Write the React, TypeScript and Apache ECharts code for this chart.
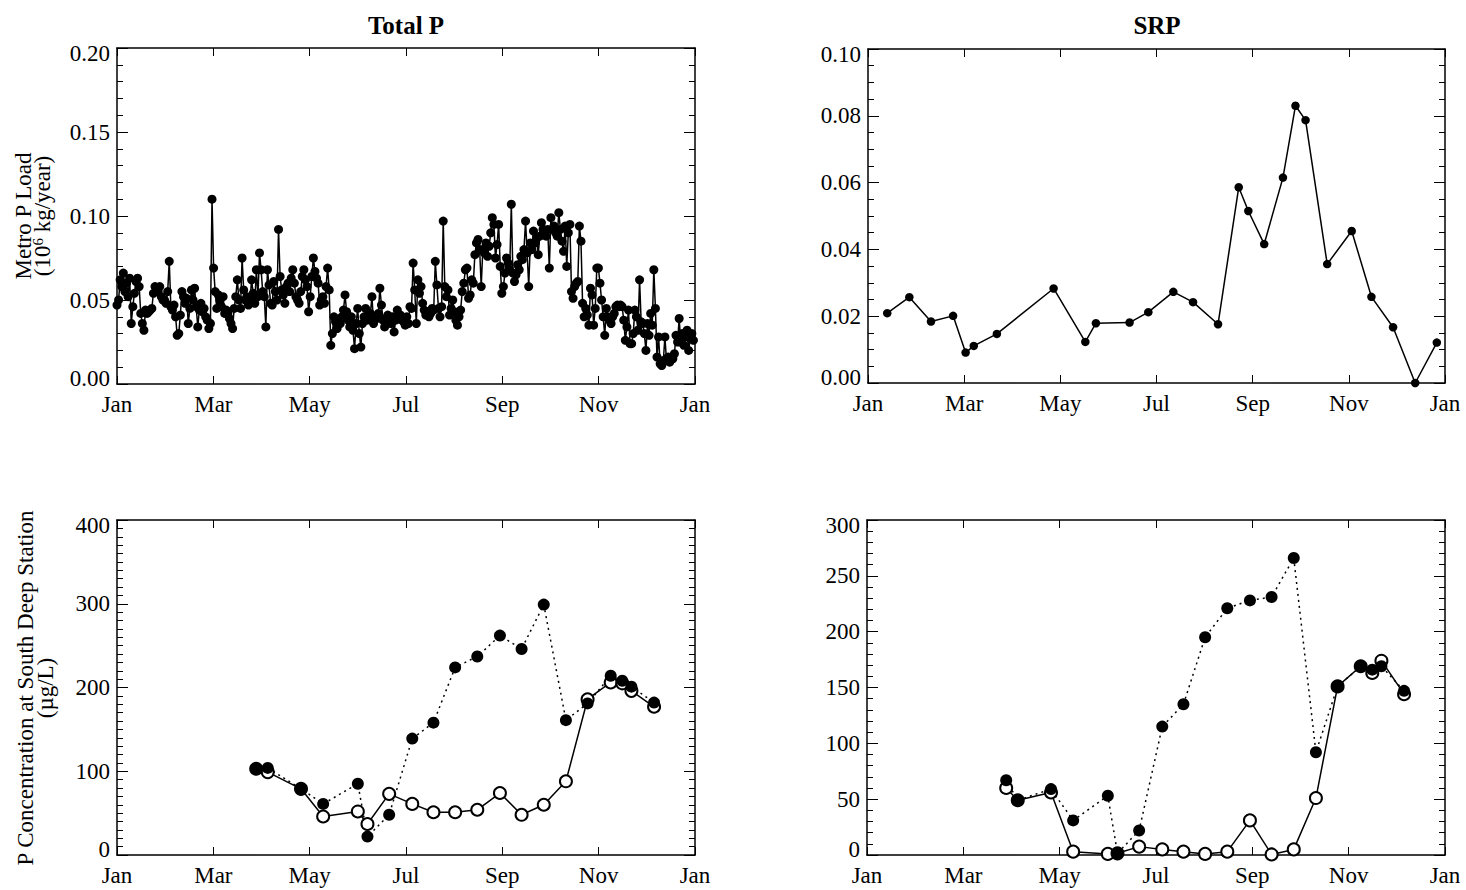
import React, { useEffect, useRef } from 'react';
import * as echarts from 'echarts';

const FONT = '"Liberation Serif", "Times New Roman", serif';
const MONTH_TICKS = ['Jan', 'Mar', 'May', 'Jul', 'Sep', 'Nov', 'Jan'];

// Daily Total P metro load (10^6 kg/year), day 0 = Jan 1
const TP_LOAD = [
  0.047, 0.050, 0.062, 0.058, 0.066, 0.055, 0.060, 0.052, 0.063, 0.036,
  0.046, 0.054, 0.061, 0.063, 0.058, 0.042, 0.036, 0.032, 0.044, 0.042,
  0.043, 0.044, 0.045, 0.054, 0.058, 0.057, 0.055, 0.058, 0.052, 0.050,
  0.050, 0.048, 0.055, 0.073, 0.046, 0.044, 0.047, 0.040, 0.029, 0.030,
  0.041, 0.055, 0.052, 0.048, 0.051, 0.036, 0.045, 0.056, 0.050, 0.057,
  0.046, 0.034, 0.044, 0.048, 0.043, 0.045, 0.040, 0.038, 0.033, 0.036,
  0.110, 0.069, 0.055, 0.045, 0.053, 0.050, 0.046, 0.052, 0.042, 0.044,
  0.042, 0.039, 0.036, 0.033, 0.045, 0.052, 0.062, 0.050, 0.045, 0.075,
  0.056, 0.050, 0.052, 0.047, 0.050, 0.062, 0.054, 0.048, 0.068, 0.052,
  0.078, 0.068, 0.055, 0.052, 0.034, 0.068, 0.059, 0.048, 0.047, 0.061,
  0.055, 0.050, 0.092, 0.064, 0.056, 0.053, 0.048, 0.058, 0.060, 0.055,
  0.063, 0.068, 0.060, 0.052, 0.050, 0.048, 0.055, 0.064, 0.068, 0.062,
  0.058, 0.043, 0.052, 0.064, 0.075, 0.067, 0.063, 0.060, 0.047, 0.050,
  0.052, 0.048, 0.058, 0.069, 0.056, 0.023, 0.030, 0.040, 0.037, 0.033,
  0.038, 0.036, 0.040, 0.044, 0.053, 0.043, 0.038, 0.034, 0.040, 0.032,
  0.021, 0.036, 0.045, 0.030, 0.022, 0.036, 0.040, 0.045, 0.038, 0.040,
  0.042, 0.052, 0.036, 0.040, 0.039, 0.042, 0.057, 0.047, 0.038, 0.034,
  0.039, 0.041, 0.040, 0.036, 0.040, 0.031, 0.038, 0.044, 0.039, 0.041,
  0.038, 0.037, 0.035, 0.040, 0.036, 0.046, 0.045, 0.072, 0.056, 0.036,
  0.062, 0.054, 0.058, 0.048, 0.044, 0.041, 0.043, 0.040, 0.042, 0.045,
  0.044, 0.073, 0.059, 0.045, 0.040, 0.046, 0.097, 0.058, 0.052, 0.056,
  0.041, 0.045, 0.050, 0.043, 0.038, 0.035, 0.040, 0.044, 0.055, 0.060,
  0.068, 0.069, 0.051, 0.053, 0.062, 0.060, 0.077, 0.084, 0.086, 0.080,
  0.058, 0.080, 0.078, 0.084, 0.076, 0.082, 0.090, 0.099, 0.095, 0.075,
  0.083, 0.095, 0.070, 0.054, 0.058, 0.066, 0.075, 0.072, 0.068, 0.107,
  0.066, 0.061, 0.065, 0.071, 0.068, 0.076, 0.074, 0.080, 0.097, 0.078,
  0.058, 0.084, 0.080, 0.091, 0.084, 0.087, 0.077, 0.088, 0.096, 0.092,
  0.090, 0.088, 0.092, 0.069, 0.099, 0.092, 0.094, 0.090, 0.088, 0.102,
  0.092, 0.085, 0.079, 0.094, 0.070, 0.090, 0.095, 0.055, 0.051, 0.058,
  0.060, 0.061, 0.094, 0.085, 0.048, 0.040, 0.045, 0.041, 0.035, 0.057,
  0.053, 0.035, 0.045, 0.069, 0.069, 0.060, 0.050, 0.040, 0.029, 0.045,
  0.040, 0.038, 0.036, 0.040, 0.042, 0.046, 0.047, 0.046, 0.047, 0.046,
  0.038, 0.026, 0.034, 0.044, 0.024, 0.024, 0.030, 0.044, 0.040, 0.032,
  0.062, 0.037, 0.036, 0.030, 0.020, 0.036, 0.029, 0.042, 0.035, 0.068,
  0.045, 0.016, 0.028, 0.012, 0.011, 0.014, 0.028, 0.014, 0.016, 0.013,
  0.016, 0.015, 0.018, 0.029, 0.025, 0.039, 0.025, 0.030, 0.023, 0.028,
  0.032, 0.020, 0.027, 0.030, 0.026,
];

// SRP metro load samples (month position, 0 = Jan 1)
const SRP_MONTH = [0.40, 0.86, 1.31, 1.77, 2.03, 2.20, 2.68, 3.86, 4.52, 4.74, 5.44, 5.83, 6.35, 6.76, 7.28, 7.71, 7.91, 8.24, 8.63, 8.89, 9.10, 9.55, 10.06, 10.47, 10.92, 11.38, 11.83];
const SRP_LOAD = [0.0209, 0.0257, 0.0184, 0.0201, 0.0091, 0.0111, 0.0147, 0.0283, 0.0123, 0.0179, 0.0181, 0.0212, 0.0273, 0.0242, 0.0176, 0.0586, 0.0515, 0.0416, 0.0615, 0.0830, 0.0787, 0.0356, 0.0455, 0.0258, 0.0167, 0.0000, 0.0121];

// South Deep Station sampling dates (month position)
const STATION_MONTH = [2.89, 3.13, 3.82, 4.28, 5.00, 5.20, 5.65, 6.13, 6.57, 7.02, 7.48, 7.95, 8.40, 8.86, 9.32, 9.77, 10.25, 10.49, 10.68, 11.15];
const TP_FILLED = [103, 104, 79, 61, 85, 22, 48, 139, 158, 224, 237, 262, 246, 299, 161, 181, 214, 208, 201, 182];
const TP_OPEN = [103, 99, 79, 46, 52, 37, 73, 61, 51, 51, 54, 74, 48, 60, 88, 186, 206, 205, 196, 177];
const SRP_FILLED = [67, 49, 59, 31, 53, 1.5, 22, 115, 135, 195, 221, 228, 231, 266, 92, 151, 169, 166, 169, 147];
const SRP_OPEN = [60, 49, 56, 3, 1, 1.5, 7.5, 5, 3, 1, 3, 31, 0.5, 5, 51, 151, 169, 163, 174, 144];

const GRIDS = [
  { left: 117, top: 48, width: 578, height: 336 },
  { left: 868, top: 49, width: 577, height: 334 },
  { left: 117, top: 520, width: 578, height: 335 },
  { left: 867, top: 520, width: 578, height: 335 },
];

const Y_SPECS = [
  { min: 0, max: 0.2, interval: 0.05, minor: 5, digits: 2 },
  { min: 0, max: 0.1, interval: 0.02, minor: 4, digits: 2 },
  { min: 0, max: 400, interval: 100, minor: 10, digits: 0 },
  { min: 0, max: 300, interval: 50, minor: 5, digits: 0 },
];

const LINE_STYLE = { color: '#000', width: 1.5 };

function xAxisPair(gridIndex: number) {
  const base: any = {
    type: 'value', gridIndex, min: 0, max: 12, interval: 2,
    axisLine: { show: true, onZero: false, lineStyle: LINE_STYLE },
    axisTick: { show: true, inside: true, length: 8, lineStyle: { color: '#000', width: 1 } },
    splitLine: { show: false },
  };
  return [
    {
      ...base, position: 'bottom',
      axisLabel: {
        show: true, margin: 9, color: '#000', fontFamily: FONT, fontSize: 23,
        showMinLabel: true, showMaxLabel: true,
        formatter: (v: number) => MONTH_TICKS[Math.round(v / 2)],
      },
    },
    { ...base, position: 'top', axisLabel: { show: false } },
  ];
}

function yAxisPair(gridIndex: number) {
  const s = Y_SPECS[gridIndex];
  const base: any = {
    type: 'value', gridIndex, min: s.min, max: s.max, interval: s.interval,
    axisLine: { show: true, onZero: false, lineStyle: LINE_STYLE },
    axisTick: { show: true, inside: true, length: 11, lineStyle: { color: '#000', width: 1 } },
    minorTick: { show: true, splitNumber: s.minor, length: 6, lineStyle: { color: '#000', width: 1 } },
    splitLine: { show: false },
    minorSplitLine: { show: false },
  };
  const txt = { fontFamily: FONT, fontSize: 23, color: '#000' };
  return [
    {
      ...base, position: 'left',
      axisLabel: {
        show: true, margin: 7, ...txt, showMinLabel: true, showMaxLabel: true,
        formatter: (v: number) => {
          const str = v.toFixed(s.digits);
          if (Math.abs(v - s.min) < 1e-9) return `{lo|${str}}`;
          if (Math.abs(v - s.max) < 1e-9) return `{hi|${str}}`;
          return str;
        },
        rich: {
          lo: { ...txt, padding: [0, 0, 12, 0] },
          hi: { ...txt, padding: [10, 0, 0, 0] },
        },
      },
    },
    { ...base, position: 'right', axisLabel: { show: false } },
  ];
}

function pairs(xs: number[], ys: number[]) {
  return xs.map((x, i) => [x, ys[i]]);
}

export default function App() {
  const ref = useRef<HTMLDivElement>(null);
  useEffect(() => {
    if (!ref.current) return;
    const chart = echarts.init(ref.current, undefined, { renderer: 'svg' });
    const xAxis: any[] = [];
    const yAxis: any[] = [];
    for (let g = 0; g < 4; g++) {
      xAxis.push(...xAxisPair(g));
      yAxis.push(...yAxisPair(g));
    }
    const nameTok = { fontFamily: FONT, fontSize: 23, color: '#000' };
    const supTok = { fontFamily: FONT, fontSize: 15, color: '#000', padding: [0, 0, 10, 0] };
    const option: any = {
      animation: false,
      backgroundColor: '#fff',
      grid: GRIDS.map((g) => ({ ...g, containLabel: false })),
      xAxis,
      yAxis,
      graphic: [
        { type: 'text', x: 406, y: 25, style: { text: 'Total P', font: `bold 25px ${FONT}`, fill: '#000', align: 'center', verticalAlign: 'middle', textAlign: 'center', textVerticalAlign: 'middle' } },
        { type: 'text', x: 1157, y: 25, style: { text: 'SRP', font: `bold 25px ${FONT}`, fill: '#000', align: 'center', verticalAlign: 'middle', textAlign: 'center', textVerticalAlign: 'middle' } },
        {
          type: 'text', x: 33, y: 216, rotation: Math.PI / 2,
          style: {
            text: '{n|Metro P Load}\n{n|(10}{sup|6}{n| kg/year)}',
            font: `23px ${FONT}`, fill: '#000', lineHeight: 19,
            align: 'center', verticalAlign: 'middle', textAlign: 'center', textVerticalAlign: 'middle',
            rich: { n: { ...nameTok, lineHeight: 19 }, sup: { ...supTok, lineHeight: 19 } },
          },
        },
        {
          type: 'text', x: 35, y: 688, rotation: Math.PI / 2,
          style: {
            text: '{n|P Concentration at South Deep Station}\n{n|(µg/L)}',
            font: `23px ${FONT}`, fill: '#000', lineHeight: 20,
            align: 'center', verticalAlign: 'middle', textAlign: 'center', textVerticalAlign: 'middle',
            rich: { n: { ...nameTok, lineHeight: 20 } },
          },
        },
      ],
      series: [
        {
          type: 'line', xAxisIndex: 0, yAxisIndex: 0, clip: false,
          data: TP_LOAD.map((v, i) => [(i * 12) / 365, v]),
          symbol: 'circle', symbolSize: 9,
          lineStyle: { color: '#000', width: 1.5 }, itemStyle: { color: '#000' },
        },
        {
          type: 'line', xAxisIndex: 2, yAxisIndex: 2, clip: false,
          data: pairs(SRP_MONTH, SRP_LOAD),
          symbol: 'circle', symbolSize: 8.5,
          lineStyle: { color: '#000', width: 1.5 }, itemStyle: { color: '#000' },
        },
        {
          type: 'line', xAxisIndex: 4, yAxisIndex: 4, clip: false,
          data: pairs(STATION_MONTH, TP_OPEN),
          symbol: 'emptyCircle', symbolSize: 12,
          lineStyle: { color: '#000', width: 1.5 }, itemStyle: { color: '#000', borderWidth: 1 },
        },
        {
          type: 'line', xAxisIndex: 4, yAxisIndex: 4, clip: false,
          data: pairs(STATION_MONTH, TP_FILLED),
          symbol: 'circle', symbolSize: 12,
          lineStyle: { color: '#000', width: 1.5, type: [2, 4] }, itemStyle: { color: '#000' },
        },
        {
          type: 'line', xAxisIndex: 6, yAxisIndex: 6, clip: false,
          data: pairs(STATION_MONTH, SRP_OPEN),
          symbol: 'emptyCircle', symbolSize: 12,
          lineStyle: { color: '#000', width: 1.5 }, itemStyle: { color: '#000', borderWidth: 1 },
        },
        {
          type: 'line', xAxisIndex: 6, yAxisIndex: 6, clip: false,
          data: pairs(STATION_MONTH, SRP_FILLED),
          symbol: 'circle', symbolSize: 12,
          lineStyle: { color: '#000', width: 1.5, type: [2, 4] }, itemStyle: { color: '#000' },
        },
      ],
    };
    chart.setOption(option);
    return () => chart.dispose();
  }, []);
  return <div ref={ref} style={{ position: 'absolute', left: 0, top: 0, width: 1466, height: 890 }} />;
}
